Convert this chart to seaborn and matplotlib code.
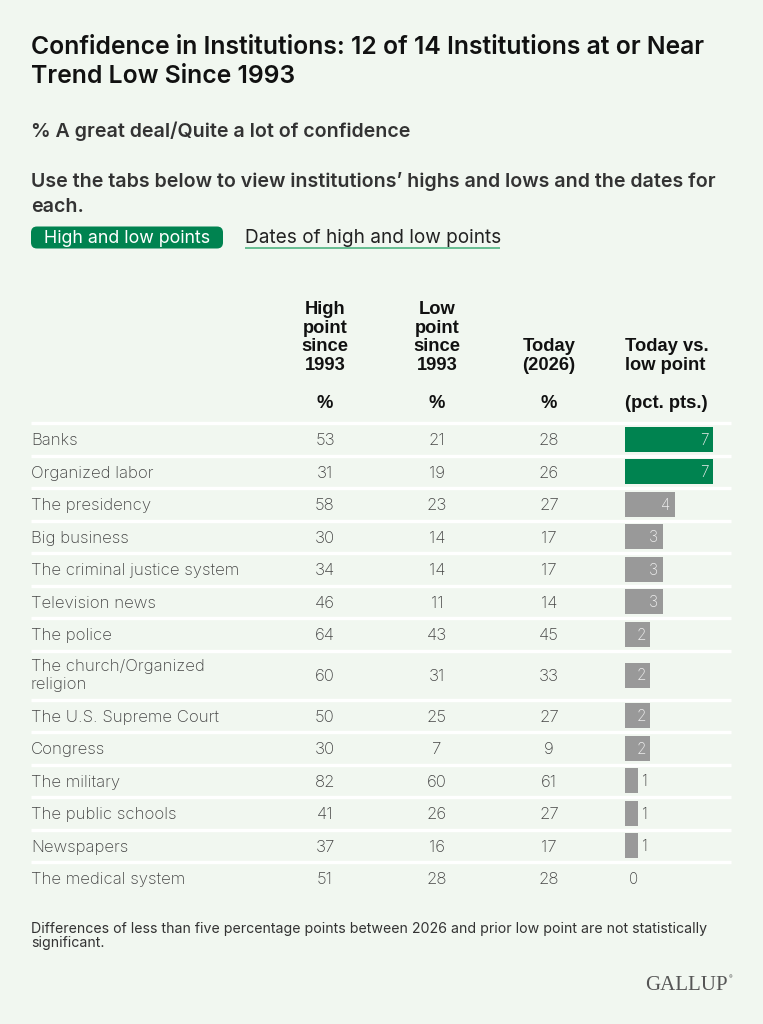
import matplotlib
matplotlib.use("Agg")
import matplotlib.pyplot as plt
from matplotlib.patches import FancyBboxPatch
import seaborn as sns
import numpy as np

# ---------------- data ----------------
institutions = ["Banks", "Organized labor", "The presidency", "Big business",
                "The criminal justice system", "Television news", "The police",
                "The church/Organized\nreligion", "The U.S. Supreme Court", "Congress",
                "The military", "The public schools", "Newspapers", "The medical system"]
high_point = [53, 31, 58, 30, 34, 46, 64, 60, 50, 30, 82, 41, 37, 51]
low_point = [21, 19, 23, 14, 14, 11, 43, 31, 25, 7, 60, 26, 16, 28]
today_2026 = [28, 26, 27, 17, 17, 14, 45, 33, 27, 9, 61, 27, 17, 28]
today_vs_low = [7, 7, 4, 3, 3, 3, 2, 2, 2, 2, 1, 1, 1, 0]
significant = [True, True] + [False] * 12

title = "Confidence in Institutions: 12 of 14 Institutions at or Near\nTrend Low Since 1993"
subtitle = "% A great deal/Quite a lot of confidence"
instructions = "Use the tabs below to view institutions\u2019 highs and lows and the dates for\neach."
tab_active = "High and low points"
tab_inactive = "Dates of high and low points"
col_headers = ["High\npoint\nsince\n1993", "Low\npoint\nsince\n1993", "Today\n(2026)", "Today vs.\nlow point"]
col_units = ["%", "%", "%", "(pct. pts.)"]
footnote = ("Differences of less than five percentage points between 2026 and prior low point are not statistically\n"
            "significant.")
source = "GALLUP"

# ---------------- style ----------------
W, H = 763, 1024
BG = "#f1f7f0"
GREEN = "#008350"
GREY = "#999999"
DARK = "#333333"

sns.set_theme(style="white")
plt.rcParams["font.family"] = ["Inter", "DejaVu Sans"]

fig = plt.figure(figsize=(W / 100, H / 100), dpi=100, facecolor=BG)
ax = fig.add_axes([0, 0, 1, 1])
ax.set_xlim(0, W)
ax.set_ylim(H, 0)
ax.axis("off")
ax.set_facecolor(BG)

LEFT = 31
RIGHT = 731

# title block
tl = title.split("\n")
ax.text(LEFT, 54, tl[0], fontsize=17.8, fontweight="semibold", color="#111111", va="baseline")
ax.text(LEFT, 83, tl[1], fontsize=17.8, fontweight="semibold", color="#111111", va="baseline")
ax.text(LEFT, 137, subtitle, fontsize=14.1, fontweight="semibold", color=DARK, va="baseline")
ins = instructions.split("\n")
ax.text(LEFT, 187, ins[0], fontsize=14.1, fontweight="semibold", color=DARK, va="baseline")
ax.text(LEFT, 212, ins[1], fontsize=14.1, fontweight="semibold", color=DARK, va="baseline")

# tabs
tab = FancyBboxPatch((LEFT, 226.5), 192, 22, boxstyle="round,pad=0,rounding_size=6",
                     facecolor=GREEN, edgecolor="none")
ax.add_patch(tab)
ax.text(LEFT + 96, 243, tab_active, fontsize=12.8, color="white", ha="center", va="baseline")
ax.text(245, 243, tab_inactive, fontsize=13.7, color="#222222", ha="left", va="baseline")
ax.plot([245, 500], [247.5, 247.5], color="#5bb88a", lw=1.3, solid_capstyle="butt")

# column positions
col_x = [325, 437, 549]
bar_x0 = 625
hdr_font = ["Liberation Sans", "DejaVu Sans"]
hdr_size = 13.2
line_h = 18.6
for i, hdr in enumerate(col_headers):
    lines = hdr.split("\n")
    n = len(lines)
    for j, ln in enumerate(lines):
        yb = 370 - (n - 1 - j) * line_h
        if i < 3:
            ax.text(col_x[i], yb, ln, fontsize=hdr_size, fontweight="bold", family=hdr_font,
                    color="#111111", ha="center", va="baseline")
        else:
            ax.text(bar_x0, yb, ln, fontsize=hdr_size, fontweight="bold", family=hdr_font,
                    color="#111111", ha="left", va="baseline")
for i, u in enumerate(col_units):
    if i < 3:
        ax.text(col_x[i], 408, u, fontsize=hdr_size, fontweight="bold", family=hdr_font,
                color="#111111", ha="center", va="baseline")
    else:
        ax.text(bar_x0, 408, u, fontsize=hdr_size, fontweight="bold", family=hdr_font,
                color="#111111", ha="left", va="baseline")

# rows layout
row_h = [49.0 if "\n" in name else 32.5 for name in institutions]
edges = 423 + np.concatenate([[0], np.cumsum(row_h)])
centers = (edges[:-1] + edges[1:]) / 2

for k in range(len(institutions)):
    ax.plot([LEFT, RIGHT], [edges[k], edges[k]], color="white", lw=2.4, solid_capstyle="butt")

body_kw = dict(fontsize=12.1, color="#444444", fontweight="light", va="baseline")
for k, name in enumerate(institutions):
    cy = centers[k]
    if "\n" in name:
        a, b = name.split("\n")
        ax.text(LEFT, cy - 3.5, a, ha="left", **body_kw)
        ax.text(LEFT, cy + 14.5, b, ha="left", **body_kw)
    else:
        ax.text(LEFT, cy + 6, name, ha="left", **body_kw)
    for cx, vals in zip(col_x, [high_point, low_point, today_2026]):
        ax.text(cx, cy + 6, str(vals[k]), ha="center", **body_kw)

# bars through seaborn
px_per_pt = 12.5
axb = fig.add_axes([bar_x0 / W, 0, 1 - bar_x0 / W, 1])
colors = [GREEN if s else GREY for s in significant]
sns.barplot(x=today_vs_low, y=centers, hue=[str(i) for i in range(len(institutions))],
            palette=colors, dodge=False, native_scale=True, orient="h", legend=False,
            width=25 / 32.5, linewidth=0, saturation=1, ax=axb)
axb.set_ylim(H, 0)
axb.set_xlim(0, (W - bar_x0) / px_per_pt)
axb.axis("off")
axb.patch.set_alpha(0)
for k, v in enumerate(today_vs_low):
    cy = centers[k]
    if v >= 2:
        axb.text(v - 0.35, cy + 5.5, str(v), ha="right", va="baseline", fontsize=11,
                 color="#eeeeee", fontweight="light")
    else:
        axb.text(v + 0.35, cy + 5.5, str(v), ha="left", va="baseline", fontsize=11,
                 color="#444444", fontweight="light")

# footnote and source
fn = footnote.split("\n")
ax.text(LEFT, 933, fn[0], fontsize=10.2, color="#333333", va="baseline")
ax.text(LEFT, 947.5, fn[1], fontsize=10.2, color="#333333", va="baseline")
ax.text(728, 990, source, fontsize=15, family=["Liberation Serif", "DejaVu Serif"],
        color="#555555", ha="right", va="baseline")
ax.text(729, 979, "\u00ae", fontsize=4, color="#555555", ha="left", va="baseline")

fig.savefig("out.png", dpi=100, facecolor=BG)
